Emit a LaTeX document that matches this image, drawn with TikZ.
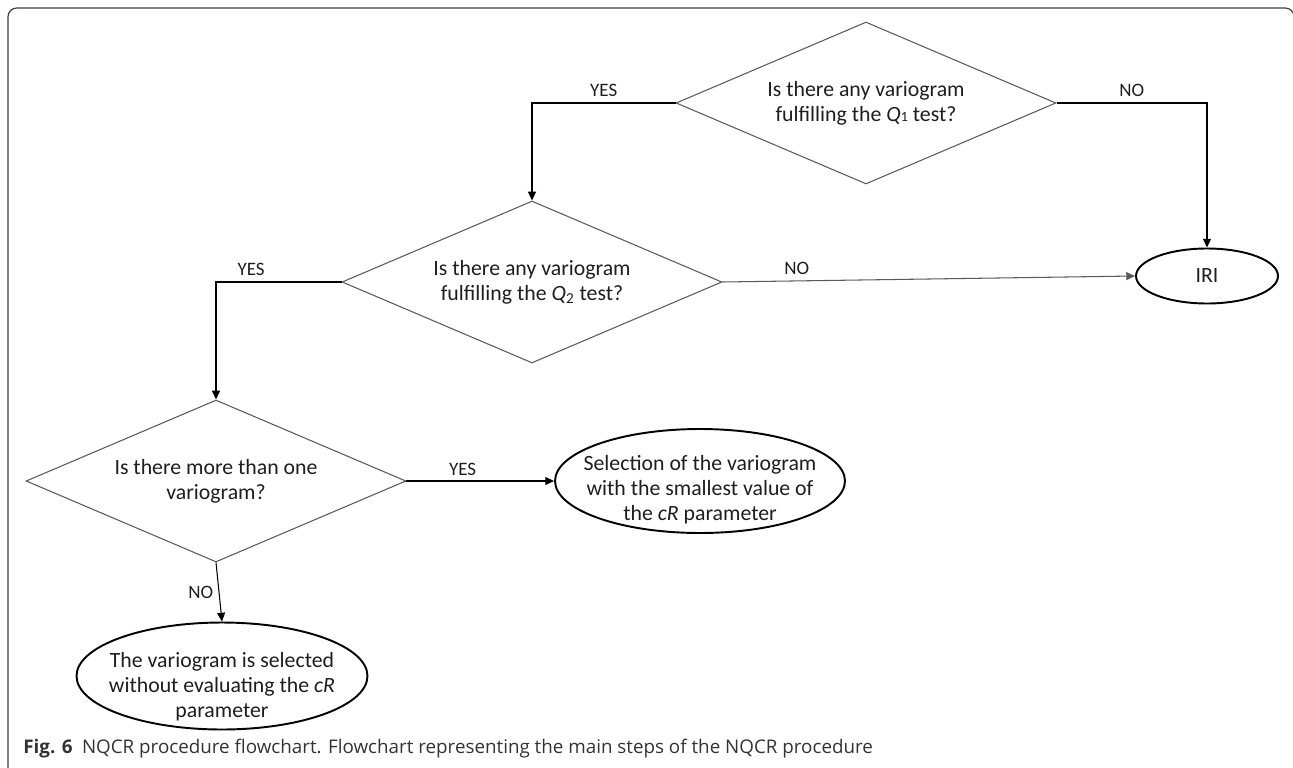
\documentclass[tikz,border=0pt]{standalone}
\usepackage{fontspec}
\setmainfont{Carlito}
\newfontfamily\capfont{Open Sans}
\usetikzlibrary{arrows.meta,shapes.geometric}
\definecolor{edge}{RGB}{90,90,90}
\definecolor{ink}{RGB}{30,30,30}

\begin{document}
\begin{tikzpicture}[x=0.02cm,y=-0.02cm,
    txt/.style={font=\fontsize{12.4}{14.2}\selectfont,text=ink,align=center},
    dec/.style={diamond,draw=edge,line width=0.6pt,aspect=2.3,inner sep=0pt,
                minimum width=7.6cm,minimum height=3.24cm,txt},
    oval/.style={ellipse,draw=black,line width=1.1pt,inner sep=-30pt,txt},
    arr/.style={-{Triangle[length=5pt,width=4.5pt]},line width=0.6pt},
    bent/.style={arr,line width=0.9pt},
    lab/.style={font=\fontsize{10.8}{12}\selectfont,text=ink,inner sep=3pt}]
    \clip (0,0) rectangle (1293,767);
    % frame
    \draw[black!75,line width=0.7pt,rounded corners=5pt]
      (8,800) -- (8,8) -- (1294,8) -- (1294,800);
    % decisions
    \node[dec] (q1) at (866,103)
      {Is there any variogram\\fulfilling the \textit{Q}{\footnotesize 1} test?};
    \node[dec] (q2) at (532,282)
      {Is there any variogram\\fulfilling the \textit{Q}\textsubscript{2} test?};
    \node[dec] (more) at (216,481) {Is there more than one\\variogram?};
    % outcomes
    \node[oval,minimum width=2.84cm,minimum height=1.1cm] (iri) at (1207,276) {IRI};
    \node[oval,minimum width=5.8cm,minimum height=2.08cm,
          label={[txt,yshift=-5pt]center:Selection of the variogram\\with the smallest value of\\the \textit{cR} parameter}]
      (sel) at (700,481) {};
    \node[oval,minimum width=5.82cm,minimum height=2.14cm,
          label={[txt,yshift=-6pt]center:The variogram is selected\\without evaluating the \textit{cR}\\parameter}]
      (nocr) at (222,676) {};
    % connectors
    \draw[bent] (q1.west) -| node[lab,pos=0.25,above] {YES} (q2.north);
    \draw[bent] (q1.east) -| node[lab,pos=0.25,above] {NO} (iri.north);
    \draw[bent] (q2.west) -| node[lab,pos=0.36,above] {YES} (more.north);
    \draw[arr,edge] (q2.east) -- node[lab,pos=0.18,above] {NO} (iri.west);
    \draw[arr] (more.east) -- node[lab,pos=0.38,above] {YES} (sel.west);
    \draw[arr] (more.south) -- node[lab,left] {NO} (nocr.north);
    % caption
    \node[anchor=base west,inner sep=0pt,text=black!80,
          font=\capfont\fontsize{10.7}{12}\selectfont] (cap) at (23,753)
      {\textbf{Fig. 6}\enspace NQCR procedure flowchart. Flowchart representing the main steps of the NQCR procedure};
\end{tikzpicture}
\end{document}
